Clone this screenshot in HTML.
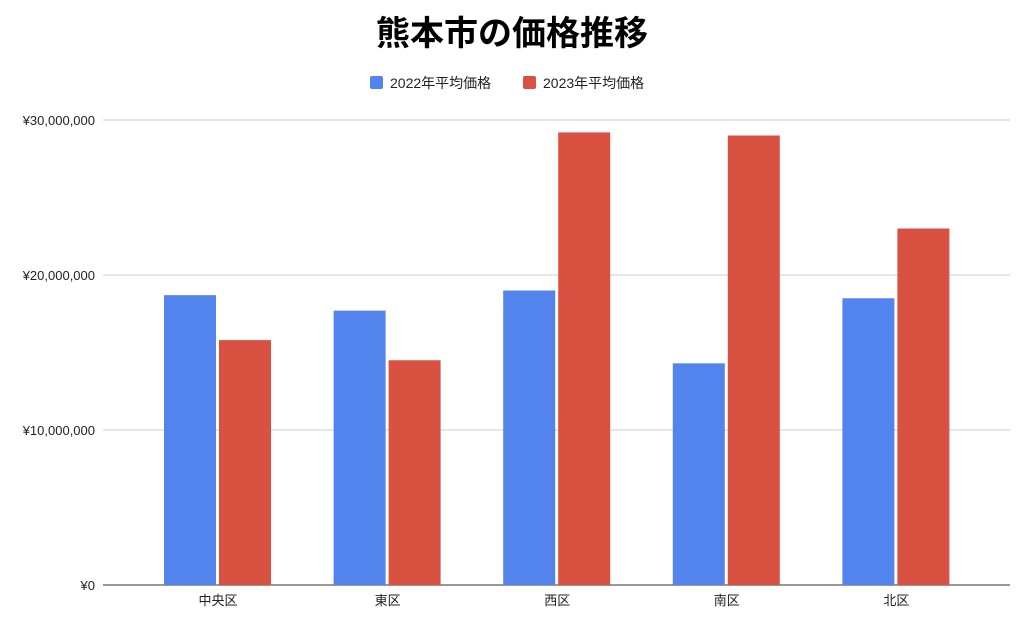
<!DOCTYPE html>
<html><head><meta charset="utf-8"><style>
body{margin:0;background:#fff;width:1024px;height:617px;overflow:hidden;font-family:"Liberation Sans","Noto Sans CJK JP",sans-serif}
</style></head><body>
<svg id="chart" width="1024" height="617" xmlns="http://www.w3.org/2000/svg" font-family="Liberation Sans, Noto Sans CJK JP, sans-serif">
<text x="512" y="45" text-anchor="middle" font-size="34" font-weight="bold" fill="#000">熊本市の価格推移</text>
<g>
<rect x="370" y="76" width="13" height="13" rx="2" fill="#5383EC"/>
<text x="390" y="88" font-size="14" fill="#222">2022年平均価格</text>
<rect x="523" y="76" width="13" height="13" rx="2" fill="#D95140"/>
<text x="543" y="88" font-size="14" fill="#222">2023年平均価格</text>
</g>
<g id="grid"></g><g id="bars"></g><g id="xlabels"></g>
</svg>
<script>
const categories=["中央区","東区","西区","南区","北区"];
const values2022=[18700000,17700000,19000000,14300000,18500000];
const values2023=[15800000,14500000,29200000,29000000,23000000];
const yTicks=[0,10000000,20000000,30000000];
const yTickLabels=["¥0","¥10,000,000","¥20,000,000","¥30,000,000"];
const NS="http://www.w3.org/2000/svg";
const y0=585,yTop=120,yMax=30000000,left=103,right=1010;
function y(v){return y0-(v/yMax)*(y0-yTop);}
function xc(i){return 218+i*169.6;}
function mk(tag,attrs,parent){const e=document.createElementNS(NS,tag);for(const k in attrs)e.setAttribute(k,attrs[k]);parent.appendChild(e);return e;}
const grid=document.getElementById('grid'),bars=document.getElementById('bars'),xl=document.getElementById('xlabels');
yTicks.forEach((t,i)=>{
 const l=mk('line',{x1:left,x2:right,y1:y(t),y2:y(t),stroke:i==0?'#333':'#ccc','stroke-width':1},grid);
 
 
 const tx=mk('text',{x:95,y:y(t)+5,'text-anchor':'end','font-size':13,fill:'#222'},grid);
 tx.textContent=yTickLabels[i];
 
 
});
categories.forEach((c,i)=>{
 const b1=mk('rect',{x:xc(i)-54,y:y(values2022[i]),width:52,height:y0-y(values2022[i]),fill:'#5383EC'},bars);
 
 
 const b2=mk('rect',{x:xc(i)+1,y:y(values2023[i]),width:52,height:y0-y(values2023[i]),fill:'#D95140'},bars);
 
 
 const t=mk('text',{x:xc(i),y:605,'text-anchor':'middle','font-size':13,fill:'#222'},xl);
 t.textContent=c;
 
 
});
</script>
</body></html>
